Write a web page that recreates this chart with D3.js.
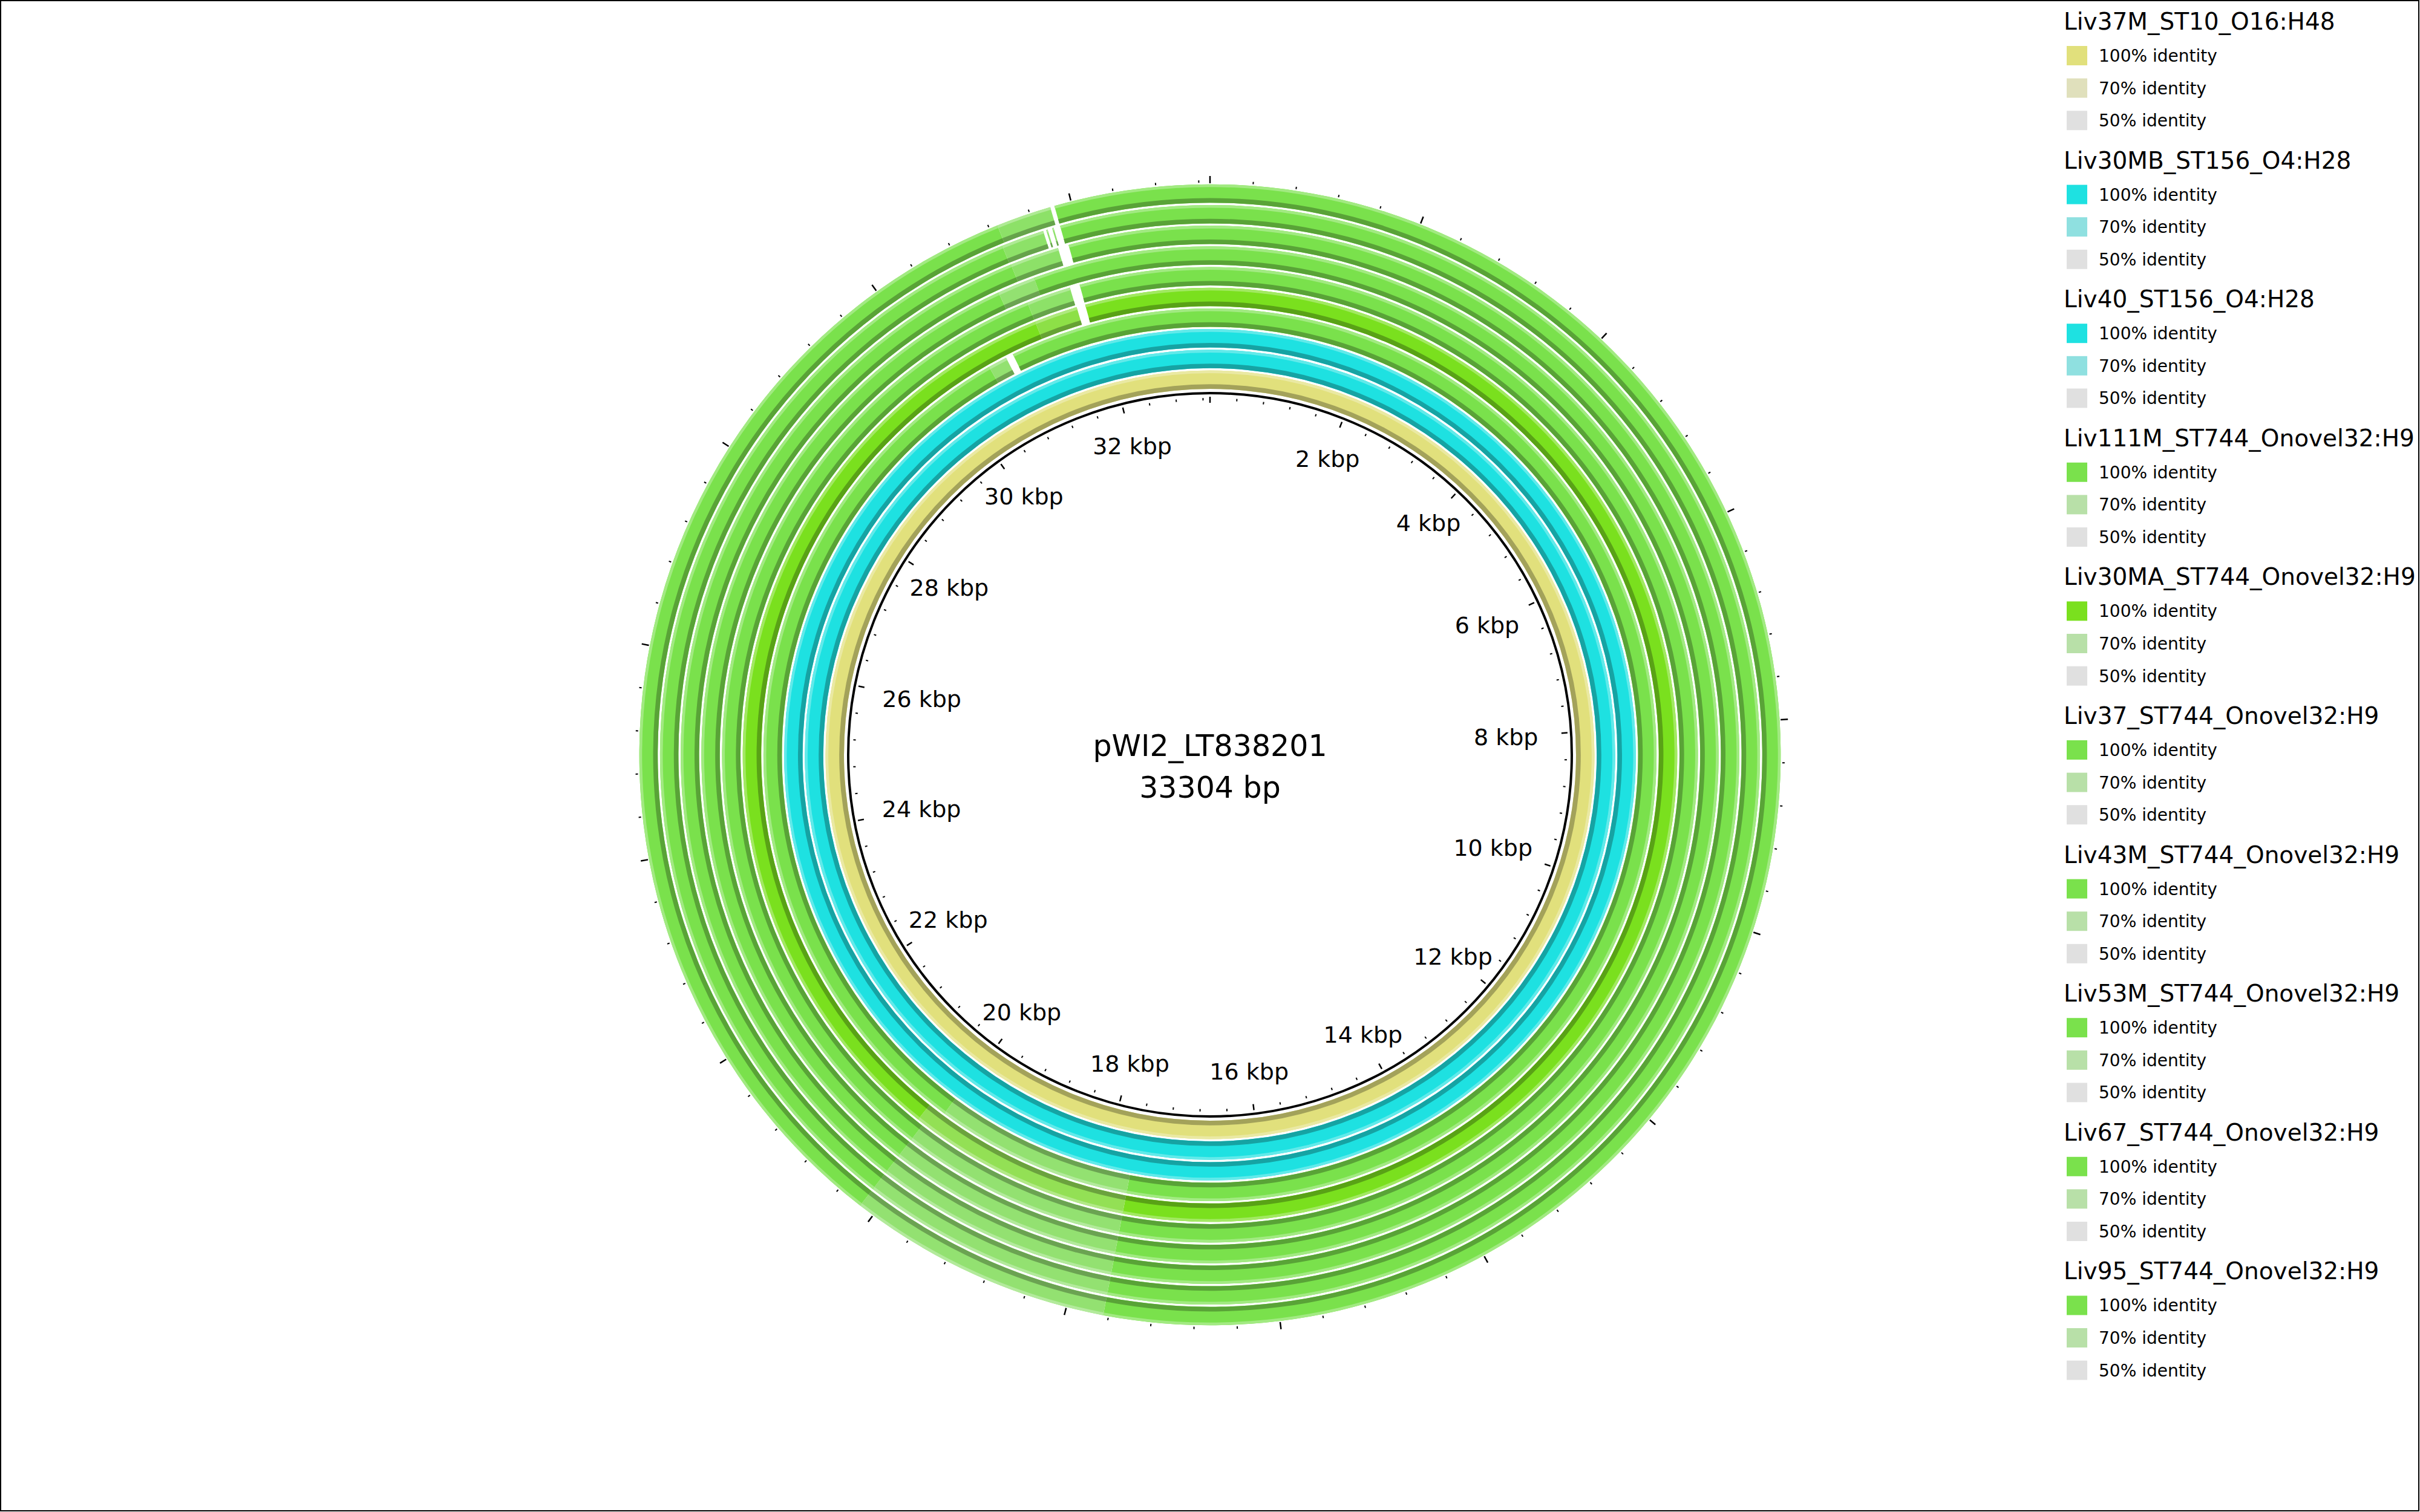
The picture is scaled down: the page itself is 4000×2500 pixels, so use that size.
<!DOCTYPE html>
<html><head><meta charset="utf-8">
<script src="https://cdn.jsdelivr.net/npm/d3@7"></script>
<style>body{margin:0;background:#fff}svg{display:block}</style>
</head><body>
<script>
// ---------------- data ----------------
const genomeName = "pWI2_LT838201";
const genomeLength = 33304;
const tickLabelsKbp = [2, 4, 6, 8, 10, 12, 14, 16, 18, 20, 22, 24, 26, 28, 30, 32];
const minorTickStep = 400;
const majorTickStep = 2000;
const identityLevels = [100, 70, 50];

// rings, inner to outer
const ringNames = [
  "Liv37M_ST10_O16:H48",
  "Liv30MB_ST156_O4:H28",
  "Liv40_ST156_O4:H28",
  "Liv111M_ST744_Onovel32:H9",
  "Liv30MA_ST744_Onovel32:H9",
  "Liv37_ST744_Onovel32:H9",
  "Liv43M_ST744_Onovel32:H9",
  "Liv53M_ST744_Onovel32:H9",
  "Liv67_ST744_Onovel32:H9",
  "Liv95_ST744_Onovel32:H9"
];

// BLAST hits per ring: [start bp, end bp, % identity]
const hitsLiv37M = [[0, 33304, 100]];
const hitsLiv30MB = [[0, 33304, 100]];
const hitsLiv40 = [[0, 33304, 100]];
const hitsLiv111M = [[0, 17650, 100], [17650, 20030, 88], [20030, 30560, 100], [30560, 30790, 88], [30880, 33304, 100]];
const hitsLiv30MA = [[0, 17650, 100], [17650, 20230, 88], [20230, 31270, 100], [31270, 31770, 91], [31870, 33304, 100]];
const hitsLiv37 = [[0, 17650, 100], [17650, 20150, 88], [20150, 31270, 100], [31270, 31760, 91], [31870, 33304, 100]];
const hitsLiv43M = [[0, 17650, 100], [17650, 20150, 88], [20150, 31030, 100], [31030, 31430, 88], [31430, 33304, 100]];
const hitsLiv53M = [[0, 17650, 100], [17650, 20150, 88], [20150, 31260, 100], [31260, 31760, 91], [31870, 33304, 100]];
const hitsLiv67 = [[0, 17650, 100], [17650, 20150, 88], [20150, 31250, 100], [31250, 31670, 91], [31700, 31715, 90], [31760, 31775, 90], [31840, 33304, 100]];
const hitsLiv95 = [[0, 17650, 100], [17650, 20150, 88], [20150, 31280, 100], [31280, 31800, 91], [31840, 33304, 100]];
const ringHits = [hitsLiv37M, hitsLiv30MB, hitsLiv40, hitsLiv111M, hitsLiv30MA, hitsLiv37, hitsLiv43M, hitsLiv53M, hitsLiv67, hitsLiv95];

// ---------------- style ----------------
const color100 = ["#e1e07c", "#1ee1e1", "#1ee1e1", "#7ae14c", "#7ae01e", "#7ae14c", "#7ae14c", "#7ae14c", "#7ae14c", "#7ae14c"];
const color70  = ["#e0e0bc", "#8fe0e0", "#8fe0e0", "#b8e0a8", "#b8e0a8", "#b8e0a8", "#b8e0a8", "#b8e0a8", "#b8e0a8", "#b8e0a8"];
const color50 = "#e0e0e0";

const W = 4000, H = 2500, cx = 2000, cy = 1248;
const rBackbone = 598, ringInner0 = 605, ringPitch = 34.2, ringWidth = 30.5;
const font = "DejaVu Sans, Verdana, sans-serif";

const svg = d3.select("body").append("svg").attr("width", W).attr("height", H);
svg.append("rect").attr("x", 1).attr("y", 1).attr("width", W - 3).attr("height", H - 3)
  .attr("fill", "#fff").attr("stroke", "#000").attr("stroke-width", 2);

const ang = d3.scaleLinear().domain([0, genomeLength]).range([0, 2 * Math.PI]);
const g = svg.append("g").attr("transform", `translate(${cx},${cy})`);
const arc = d3.arc();

function identityColor(i, id) {
  if (id >= 70) return d3.interpolateRgb(color100[i], color70[i])((100 - id) / 30);
  return d3.interpolateRgb(color70[i], color50)((70 - id) / 20);
}

ringHits.forEach((hits, i) => {
  const r0 = ringInner0 + i * ringPitch, r1 = r0 + ringWidth;
  const rg = g.append("g").attr("class", "ring");
  hits.forEach(([s, e, id]) => {
    const c = identityColor(i, id);
    const a0 = ang(s), a1 = ang(e);
    rg.append("path").attr("d", arc({innerRadius: r0, outerRadius: r1, startAngle: a0, endAngle: a1})).attr("fill", c);
    rg.append("path").attr("d", arc({innerRadius: r0, outerRadius: r0 + ringWidth * 0.25, startAngle: a0, endAngle: a1}))
      .attr("fill", d3.rgb(c).darker(0.9).formatHex());
    rg.append("path").attr("d", arc({innerRadius: r1 - ringWidth * 0.15, outerRadius: r1, startAngle: a0, endAngle: a1}))
      .attr("fill", d3.interpolateRgb(c, "#ffffff")(0.3));
  });
});

// backbone
g.append("circle").attr("r", rBackbone).attr("fill", "none").attr("stroke", "#000").attr("stroke-width", 4);

// ticks
const tickPos = d3.range(0, genomeLength, minorTickStep);
function tickLine(p, ra, rb) {
  const a = ang(p);
  return [Math.sin(a) * ra, -Math.cos(a) * ra, Math.sin(a) * rb, -Math.cos(a) * rb];
}
tickPos.forEach(p => {
  const major = p % majorTickStep === 0;
  const [x1, y1, x2, y2] = major ? tickLine(p, 582, 592) : tickLine(p, 586, 590);
  g.append("line").attr("x1", x1).attr("y1", y1).attr("x2", x2).attr("y2", y2)
    .attr("stroke", "#000").attr("stroke-width", major ? 2.5 : 2);
  const [u1, v1, u2, v2] = major ? tickLine(p, 945, 957) : tickLine(p, 946, 950);
  g.append("line").attr("x1", u1).attr("y1", v1).attr("x2", u2).attr("y2", v2)
    .attr("stroke", "#000").attr("stroke-width", major ? 2.5 : 2);
});

// tick labels
const labelR = 527;
tickLabelsKbp.forEach(k => {
  const a = ang(k * 1000);
  const t = g.append("text").text(`${k} kbp`).attr("font-family", font).attr("font-size", 38)
    .attr("text-anchor", "middle").attr("dy", "0.36em").attr("fill", "#000");
  const w = t.node().getComputedTextLength();
  const s = Math.abs(Math.sin(a));
  const pull = (w / 2) * 0.7 * Math.pow(Math.max(0, (s - 0.7) / 0.3), 1.5);
  const r = labelR - pull;
  t.attr("x", Math.sin(a) * r).attr("y", -Math.cos(a) * r);
});

// centre title
g.append("text").text(genomeName).attr("font-family", font).attr("font-size", 49)
  .attr("text-anchor", "middle").attr("x", 0).attr("y", 2);
g.append("text").text(`${genomeLength} bp`).attr("font-family", font).attr("font-size", 49)
  .attr("text-anchor", "middle").attr("x", 0).attr("y", 71);

// legend
const leg = svg.append("g");
const blockStep = 229.6;
ringNames.forEach((name, i) => {
  const y0 = 36 + i * blockStep;
  leg.append("text").text(name).attr("x", 3411).attr("y", y0 + 13)
    .attr("font-family", font).attr("font-size", 39).attr("fill", "#000");
  identityLevels.forEach((lvl, j) => {
    const yc = y0 + 56 + j * 53.6;
    const col = lvl === 100 ? color100[i] : lvl === 70 ? color70[i] : color50;
    leg.append("rect").attr("x", 3416).attr("y", yc - 16).attr("width", 34).attr("height", 32).attr("fill", col);
    leg.append("text").text(`${lvl}% identity`).attr("x", 3469).attr("y", yc + 10)
      .attr("font-family", font).attr("font-size", 28).attr("fill", "#000");
  });
});
</script>
</body></html>
